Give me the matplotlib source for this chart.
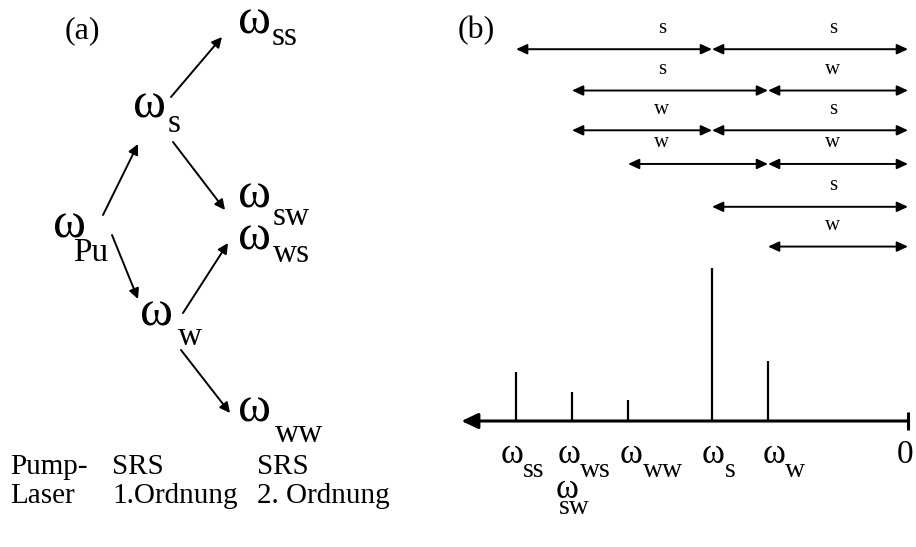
import matplotlib.pyplot as plt
from matplotlib.patches import FancyArrowPatch

plt.rcParams['font.family'] = ['Liberation Serif', 'DejaVu Serif']

# Raman shifts (units of the w-line shift) and relative line intensities
line_names = ['ss', 'ws', 'ww', 's', 'w']
line_shift = [2.8, 2.4, 2.0, 1.4, 1.0]
line_height = [0.32, 0.19, 0.14, 1.0, 0.39]

# combination bars above the spectrum: (start, middle, left label, right label)
combo_rows = [
    (2.8, 1.4, 's', 's'),
    (2.4, 1.0, 's', 'w'),
    (2.4, 1.4, 'w', 's'),
    (2.0, 1.0, 'w', 'w'),
    (1.4, None, None, 's'),
    (1.0, None, None, 'w'),
]
row_y = [2.43, 2.16, 1.90, 1.68, 1.40, 1.14]

# level scheme of panel (a): name -> (x, baseline, sub x, sub baseline)
levels = {
    'ss': (238, 33, 272, 45),
    's': (133, 118, 168, 132),
    'Pu': (53, 237, 73, 261),
    'sw': (238, 208, 273, 225),
    'ws': (238, 250, 273, 262),
    'w': (140, 325, 178, 345),
    'ww': (238, 422, 275, 442),
}
transitions = [
    ((103, 215), (138, 144)),
    ((171, 97), (222, 37)),
    ((173, 142), (225, 210)),
    ((112, 235), (138, 299)),
    ((183, 313), (228, 243)),
    ((181, 350), (230, 413)),
]

fig = plt.figure(figsize=(9.16, 5.47), dpi=100)

# ---- panel (a) in pixel coordinates
ax_a = fig.add_axes([0, 0, 1, 1])
ax_a.set_xlim(0, 916)
ax_a.set_ylim(547, 0)
ax_a.axis('off')

ax_a.text(82, 38, '(a)', fontsize=23, ha='center', va='baseline')
ax_a.text(476, 38, '(b)', fontsize=23, ha='center', va='baseline')

for name, (x, y, sx, sy) in levels.items():
    ax_a.text(x, y, 'ω', fontsize=36, ha='left', va='baseline')
    ax_a.text(sx, sy, name, fontsize=24, ha='left', va='baseline')

for start, end in transitions:
    ax_a.add_patch(FancyArrowPatch(start, end, arrowstyle='-|>,head_length=0.6,head_width=0.3',
                                   mutation_scale=10, lw=1.4, color='black',
                                   shrinkA=0, shrinkB=0))

ax_a.text(10, 474, 'Pump-', fontsize=21, va='baseline')
ax_a.text(10, 503, 'Laser', fontsize=21, va='baseline')
ax_a.text(112, 474, 'SRS', fontsize=21, va='baseline')
ax_a.text(112, 503, '1.Ordnung', fontsize=21, va='baseline')
ax_a.text(257, 474, 'SRS', fontsize=21, va='baseline')
ax_a.text(257, 503, '2. Ordnung', fontsize=21, va='baseline')

# ---- panel (b): spectrum, frequency shift increasing to the left
ax_b = fig.add_axes([440 / 916, 0, 476 / 916, 1])
ax_b.set_xlim(3.343, -0.057)
ax_b.set_ylim(-0.8235, 2.7516)
ax_b.axis('off')
ax_b.patch.set_alpha(0)

ax_b.vlines(line_shift, 0, line_height, color='black', lw=1.6)
ax_b.add_patch(FancyArrowPatch((0, 0), (3.19, 0), arrowstyle='-|>,head_length=1.0,head_width=0.47',
                               mutation_scale=10, lw=2.2, color='black',
                               shrinkA=0, shrinkB=0))
ax_b.vlines(0, -0.06, 0.06, color='black', lw=2.2)

# tick labels below the axis, offsets in points
label_pos = {
    'ss': (-15, 42, 22, 56),
    'ws': (-14, 42, 22, 56),
    'ww': (-8, 42, 23, 56),
    's': (-10, 42, 23, 56),
    'w': (-5, 42, 22, 56),
}
for name, shift in zip(line_names, line_shift):
    ox, oy, sx, sy = label_pos[name]
    ax_b.annotate('ω', xy=(shift, 0), xytext=(ox * 0.72, -oy * 0.72),
                  textcoords='offset points', fontsize=25, ha='left', va='baseline')
    ax_b.annotate(name, xy=(shift, 0), xytext=((ox + sx) * 0.72, -sy * 0.72),
                  textcoords='offset points', fontsize=20, ha='left', va='baseline')
# second label under the shared w+s line
ax_b.annotate('ω', xy=(2.4, 0), xytext=(-16 * 0.72, -77 * 0.72),
              textcoords='offset points', fontsize=25, ha='left', va='baseline')
ax_b.annotate('sw', xy=(2.4, 0), xytext=(-13 * 0.72, -93 * 0.72),
              textcoords='offset points', fontsize=20, ha='left', va='baseline')
ax_b.annotate('0', xy=(0, 0), xytext=(-3 * 0.72, -42 * 0.72),
              textcoords='offset points', fontsize=24, ha='center', va='baseline')

arrow_kw = dict(arrowstyle='<|-|>,head_length=0.65,head_width=0.3', mutation_scale=10,
                lw=1.4, color='black', shrinkA=0, shrinkB=0)
left_col, right_col = 1.757, 0.536
for (start, mid, lab_l, lab_r), y in zip(combo_rows, row_y):
    if mid is None:
        ax_b.add_patch(FancyArrowPatch((start, y), (0, y), **arrow_kw))
    else:
        ax_b.add_patch(FancyArrowPatch((start, y), (mid, y), **arrow_kw))
        ax_b.add_patch(FancyArrowPatch((mid, y), (0, y), **arrow_kw))
        ax_b.annotate(lab_l, xy=(left_col, y), xytext=(0, 12), textcoords='offset points',
                      fontsize=15, ha='center', va='baseline')
    ax_b.annotate(lab_r, xy=(right_col, y), xytext=(0, 12), textcoords='offset points',
                  fontsize=15, ha='center', va='baseline')

fig.savefig('out.png', dpi=100, facecolor='white')
